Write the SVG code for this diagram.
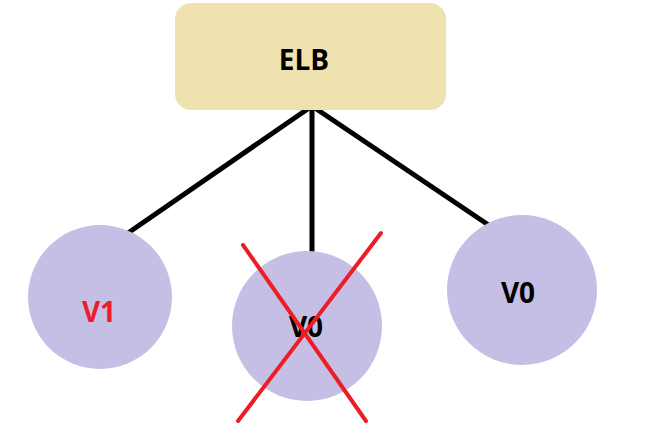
<svg xmlns="http://www.w3.org/2000/svg" width="667" height="438" viewBox="0 0 667 438">
<style>
.node{fill:#c5bfe6}
.lbl{font-family:"Open Sans","DejaVu Sans",sans-serif;font-weight:bold;font-size:28px;text-anchor:middle}
.edge{stroke:#000;stroke-width:5;fill:none}
.cross{stroke:#ee1c25;stroke-width:4;stroke-linecap:round}
</style>
<rect width="667" height="438" fill="#fff"/>
<g id="connectors">
<line class="edge" x1="312" y1="106" x2="128" y2="233"/>
<line class="edge" x1="312" y1="106" x2="312" y2="254"/>
<line class="edge" x1="312" y1="106" x2="490" y2="226"/>
</g>
<g id="elb">
<rect x="175" y="3" width="271" height="107" rx="16" fill="#efe2ae"/>
<text class="lbl" x="304" y="70" fill="#000">ELB</text>
</g>
<g id="v1">
<circle class="node" cx="100" cy="297" r="72"/>
<text class="lbl" x="99" y="322" fill="#ee1c25">V1</text>
</g>
<g id="v0-old">
<circle class="node" cx="307" cy="326" r="75"/>
<text class="lbl" x="306" y="337" fill="#000">V0</text>
<line class="cross" x1="243" y1="245" x2="366" y2="421"/>
<line class="cross" x1="381" y1="233" x2="238" y2="421"/>
</g>
<g id="v0">
<circle class="node" cx="522" cy="290" r="75"/>
<text class="lbl" x="518" y="303" fill="#000">V0</text>
</g>
</svg>
